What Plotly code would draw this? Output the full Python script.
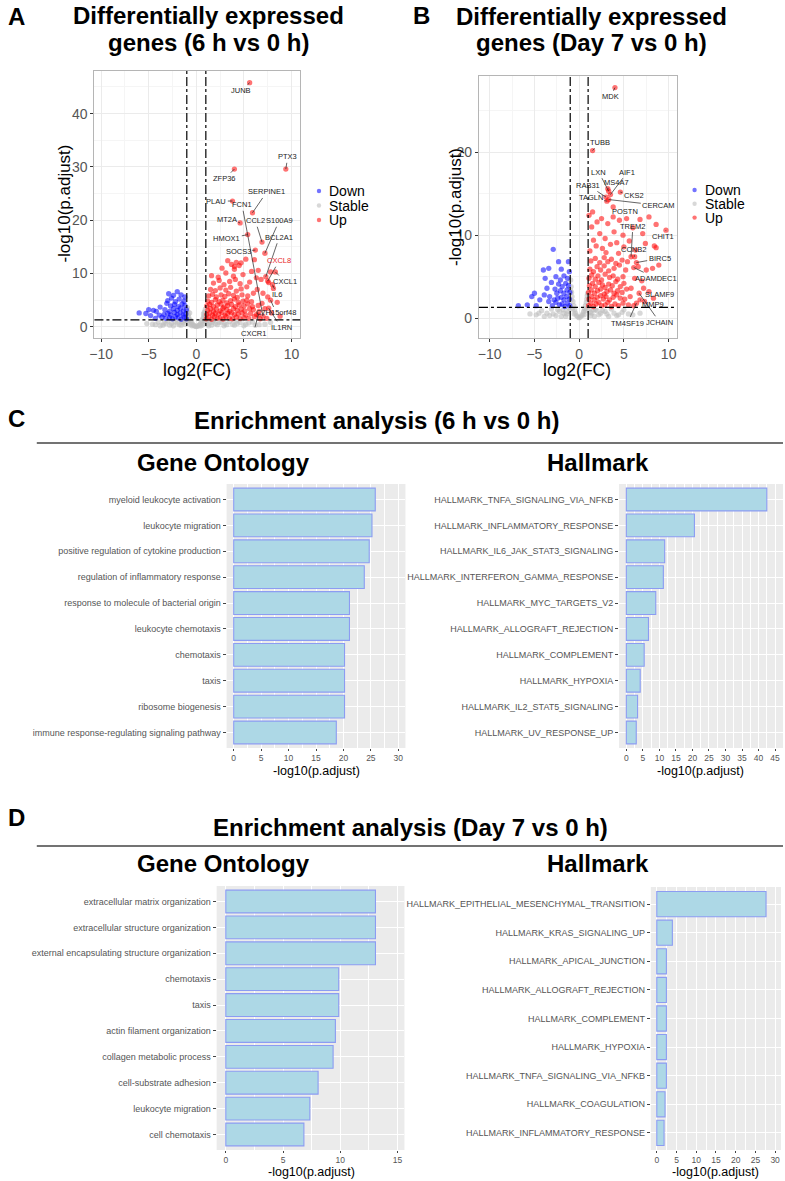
import plotly.graph_objects as go

W, H = 785, 1181
FONT = "Liberation Sans, Arial, Helvetica, sans-serif"

# ── Volcano A : 6 h vs 0 h ──────────────────────────────────────
a_up_x = [1.05, 1.3, 1.6, 1.9, 2.2, 2.5, 2.8, 3.1, 3.5, 3.8, 4.2, 4.6, 5.0, 5.5, 6.1, 6.7,
          1.1, 1.4, 1.7, 2.0, 2.35, 2.7, 3.0, 3.3, 3.7, 4.0, 4.4, 4.8, 5.2, 5.7, 6.3,
          1.2, 1.5, 1.8, 2.1, 2.5, 2.8, 3.2, 3.5, 3.9, 4.3, 4.7, 5.1, 5.6, 6.0, 6.6,
          1.1, 1.4, 1.8, 2.2, 2.6, 2.9, 3.3, 3.7, 4.1, 4.5, 5.0, 5.4, 5.9, 6.5,
          1.2, 1.6, 2.0, 2.4, 2.8, 3.2, 3.6, 4.0, 4.4, 4.9, 5.3, 5.8,
          1.3, 1.7, 2.1, 2.6, 3.0, 3.4, 3.9, 4.3, 4.8, 5.4, 6.0,
          1.5, 2.0, 2.5, 3.1, 3.6, 4.2, 4.7, 5.3, 6.4,
          1.8, 2.4, 2.9, 3.5, 4.1, 4.6, 5.6,
          1.6, 2.3, 3.1, 3.9, 4.9, 5.8,
          3.3, 3.7, 4.0, 4.2, 4.5, 4.0, 4.7,
          2.7, 5.2, 6.1, 6.5, 7.8, 7.6, 8.1, 7.0, 7.5, 6.9, 7.2, 8.5, 7.9, 8.8, 7.4, 6.8, 6.3]
a_up_y = [1.5, 1.8, 1.4, 1.9, 1.6, 1.7, 1.45, 1.9, 1.6, 1.5, 1.8, 1.55, 1.7, 1.6, 1.9, 1.5,
          2.3, 2.6, 2.2, 2.5, 2.4, 2.7, 2.2, 2.5, 2.6, 2.3, 2.4, 2.6, 2.2, 2.5, 2.3,
          3.1, 3.4, 2.9, 3.3, 3.0, 3.5, 3.2, 2.9, 3.4, 3.1, 3.3, 3.0, 3.4, 3.2, 2.9,
          3.9, 4.2, 3.8, 4.1, 4.3, 3.7, 4.0, 4.2, 3.8, 4.1, 3.9, 4.3, 3.8, 4.0,
          4.8, 4.6, 5.1, 4.7, 5.0, 4.5, 4.9, 5.2, 4.6, 4.8, 5.0, 4.7,
          5.8, 6.1, 5.6, 6.0, 5.7, 6.2, 5.9, 5.5, 6.0, 5.8, 6.3,
          7.0, 6.8, 7.3, 6.9, 7.4, 6.7, 7.1, 7.5, 7.0,
          8.2, 8.7, 7.9, 8.5, 8.9, 8.1, 8.4,
          9.6, 9.3, 10.1, 9.5, 9.8, 10.4,
          12.4, 11.7, 11.3, 12.1, 11.5, 10.8, 12.0,
          11.0, 12.7, 12.6, 10.6, 10.3, 8.3, 7.2, 6.3, 5.6, 4.4, 3.4, 4.6, 2.6, 2.0, 1.6, 8.9, 9.2]

a_down_x = [-1.05, -1.3, -1.6, -1.9, -2.2, -2.5, -2.8, -3.2, -3.6,
            -1.1, -1.4, -1.7, -2.0, -2.3, -2.7, -3.0, -3.4,
            -1.05, -1.35, -1.65, -2.0, -2.4, -2.8, -3.3,
            -1.2, -1.5, -1.9, -2.3, -2.7, -3.1,
            -1.3, -1.8, -2.2, -2.6, -3.0,
            -1.6, -2.0, -2.4, -2.9, -1.2,
            -3.8, -4.2, -4.5, -4.8, -5.0, -5.3, -6.0, -3.9, -4.3]
a_down_y = [1.5, 1.8, 1.4, 1.7, 1.9, 1.5, 1.7, 1.6, 1.8,
            2.4, 2.2, 2.6, 2.3, 2.7, 2.2, 2.5, 2.3,
            3.2, 3.0, 3.5, 3.1, 3.4, 2.9, 3.2,
            4.0, 4.3, 3.8, 4.2, 3.9, 4.4,
            4.8, 5.2, 4.7, 5.4, 4.9,
            6.0, 6.6, 5.9, 6.2, 5.6,
            3.7, 2.9, 3.1, 2.1, 3.2, 2.5, 2.6, 2.2, 1.6]

a_stable_x = [-4.6, -4.0, -3.5, -3.0, -2.6, -2.2, -1.8, -1.4, -1.1, 1.1, 1.4, 1.8, 2.2, 2.6,
              3.0, 3.5, 4.0, 4.6, 5.2, 5.9, 6.6,
              -3.8, -3.2, -2.4, -1.6, -1.2, 1.3, 1.6, 2.0, 2.9, 3.8, 4.3, 5.0,
              -5.2, -4.3, -3.4, -2.8, -2.0, -1.5, 1.2, 1.7, 2.4, 3.2, 4.2, 5.5, 6.2, 7.2, 7.8,
              -0.95, -0.9, -0.85, -0.8, -0.75, -0.7, -0.6, -0.5, -0.4, -0.3, -0.2, -0.1, 0.0,
              0.1, 0.2, 0.3, 0.4, 0.5, 0.6, 0.7, 0.75, 0.8, 0.85, 0.9, 0.95,
              -0.9, 0.9, -0.8, 0.8, -0.6, 0.6, -0.45, 0.45]
a_stable_y = [0.5, 0.9, 0.3, 1.1, 0.6, 1.0, 0.4, 0.8, 1.2, 1.1, 0.7, 1.2, 0.4, 0.9,
              0.6, 1.0, 0.3, 0.8, 0.5, 0.9, 0.4,
              0.2, 0.6, 0.2, 0.3, 0.5, 0.2, 0.3, 0.6, 0.2, 0.5, 0.6, 0.2,
              0.6, 0.4, 0.7, 0.3, 0.7, 1.0, 0.5, 0.9, 0.8, 0.4, 1.1, 0.7, 0.3, 0.5, 0.8,
              3.6, 2.9, 2.3, 1.8, 1.4, 2.6, 1.2, 0.8, 0.5, 0.3, 0.2, 0.1, 0.05,
              0.1, 0.2, 0.3, 0.5, 0.8, 1.2, 1.6, 2.4, 1.9, 2.8, 2.2, 3.3,
              1.2, 1.0, 0.7, 0.6, 0.4, 0.3, 0.2, 0.15]

a_genes = ["JUNB", "PTX3", "ZFP36", "SERPINE1", "PLAU", "FCN1", "MT2A", "CCL2", "S100A9",
           "HMOX1", "BCL2A1", "SOCS3", "CXCL8", "CXCL1", "IL6", "C7H15orf48", "IL1RN", "CXCR1"]
a_gene_x = [5.6, 9.4, 4.0, 5.9, 3.8, 7.0, 4.6, 6.9, 7.2, 5.4, 7.3, 6.2, 7.5, 8.3, 8.0, 7.8, 7.6, 6.5]
a_gene_y = [45.8, 29.6, 29.6, 21.4, 23.6, 2.0, 19.5, 15.9, 13.8, 17.3, 9.4, 14.4, 8.6, 10.3,
            7.9, 5.0, 3.5, 2.2]

# ── Volcano B : Day 7 vs 0 h ────────────────────────────────────
b_up_x = [1.05, 1.3, 1.6, 1.9, 2.2, 2.5, 2.9, 3.2, 3.6, 4.0, 4.4, 4.9, 5.5, 6.1,
          1.1, 1.4, 1.7, 2.0, 2.4, 2.7, 3.0, 3.4, 3.8, 4.2, 4.6, 5.1, 5.7,
          1.05, 1.35, 1.7, 2.05, 2.4, 2.8, 3.1, 3.5, 3.9, 4.3, 4.8, 5.3,
          1.15, 1.5, 1.8, 2.2, 2.6, 2.9, 3.3, 3.7, 4.1, 4.6, 5.0,
          1.1, 1.4, 1.8, 2.1, 2.5, 2.9, 3.4, 3.8, 4.3, 4.9,
          1.2, 1.6, 2.0, 2.4, 2.8, 3.3, 3.9, 4.5, 5.2,
          1.3, 1.8, 2.3, 2.8, 3.2, 3.6, 4.1, 4.8, 5.4,
          1.2, 1.6, 1.4, 1.1, 1.5, 2.0, 1.9, 2.3, 2.6, 2.5, 2.9, 3.2, 3.0, 3.5, 3.8, 3.9,
          4.2, 4.5, 4.4, 4.9, 5.0, 5.3, 5.6, 6.0, 6.3, 6.8, 7.1, 7.4, 7.8, 8.4, 8.6, 8.6,
          6.6, 7.5, 8.2, 8.9, 7.0, 7.8, 8.3, 6.2, 5.8, 7.3]
b_up_y = [1.5, 1.8, 1.4, 1.7, 1.9, 1.5, 1.6, 1.9, 1.4, 1.7, 1.5, 1.8, 1.6, 1.5,
          2.3, 2.6, 2.2, 2.5, 2.7, 2.3, 2.6, 2.2, 2.5, 2.8, 2.4, 2.3, 2.6,
          3.1, 3.4, 3.0, 3.3, 3.5, 2.9, 3.2, 3.4, 3.0, 3.3, 3.1, 3.5,
          3.9, 4.2, 3.8, 4.3, 4.0, 3.7, 4.1, 3.9, 4.4, 3.8, 4.2,
          4.8, 5.2, 4.7, 5.1, 4.6, 5.3, 4.9, 5.1, 4.7, 5.0,
          5.9, 5.6, 6.2, 5.8, 6.3, 5.7, 6.0, 6.4, 5.8,
          6.9, 7.2, 6.7, 7.3, 6.8, 7.1, 6.6, 7.0, 6.8,
          8.1, 9.4, 11.0, 12.4, 12.8, 11.6, 8.7, 10.2, 8.4, 12.0, 9.6, 11.4, 7.9, 8.9, 12.2, 10.4,
          9.1, 11.8, 7.8, 10.0, 8.6, 12.0, 9.3, 10.9, 8.2, 11.9, 10.2, 9.0, 12.2, 8.7, 8.5, 11.3,
          6.2, 5.8, 6.0, 6.4, 4.5, 3.2, 2.4, 4.8, 3.6, 2.0]

b_down_x = [-1.05, -1.3, -1.6, -1.9, -2.2, -2.6, -3.0,
            -1.1, -1.4, -1.7, -2.0, -2.4, -2.8,
            -1.05, -1.35, -1.7, -2.1, -2.5,
            -1.2, -1.5, -1.9, -2.3,
            -1.3, -1.7, -2.1, -1.1, -2.6,
            -2.9, -2.3, -1.2, -4.0, -3.4, -2.0, -3.1, -3.6, -3.9, -4.4, -5.3, -5.8, -4.8,
            -3.4, -6.8, -5.0, -3.8, -2.7, -3.3]
b_down_y = [1.5, 1.8, 1.4, 1.7, 1.6, 1.9, 1.5,
            2.3, 2.6, 2.2, 2.5, 2.4, 2.2,
            3.1, 3.4, 3.0, 3.3, 3.0,
            3.9, 4.2, 3.8, 4.1,
            4.8, 5.1, 4.6, 5.6, 5.0,
            8.3, 6.8, 6.8, 5.8, 6.0, 5.9, 4.3, 3.6, 2.8, 2.2, 2.6, 1.6, 1.5,
            2.0, 1.5, 3.0, 4.8, 3.5, 2.6]

b_stable_x = [-4.8, -4.2, -3.6, -3.1, -2.6, -2.2, -1.8, -1.4, -1.1, 1.1, 1.4, 1.8, 2.2, 2.6,
              3.1, 3.6, 4.2, 4.8, 5.5,
              -3.9, -2.9, -2.0, -1.5, 1.3, 1.7, 2.4, 3.3, 4.4,
              -5.5, -4.5, -3.3, -2.4, -1.7, -1.25, 1.25, 1.6, 2.0, 2.9, 3.9, 5.0, 6.0, 6.8,
              -0.95, -0.9, -0.85, -0.8, -0.7, -0.6, -0.5, -0.4, -0.3, -0.15, 0.0, 0.15, 0.3,
              0.4, 0.5, 0.6, 0.7, 0.8, 0.85, 0.9, 0.95, -0.9, -0.75, 0.75, -0.55, 0.55, -0.95]
b_stable_y = [0.4, 0.9, 0.6, 1.1, 0.3, 0.8, 1.0, 0.5, 1.2, 1.1, 0.6, 1.0, 0.4, 0.9,
              0.5, 1.1, 0.3, 0.7, 0.5,
              0.2, 0.5, 0.2, 0.2, 0.3, 0.2, 0.6, 0.2, 0.4,
              0.5, 0.6, 0.3, 1.0, 0.6, 0.8, 0.7, 1.0, 0.9, 0.8, 0.6, 1.0, 0.4, 0.6,
              4.6, 3.8, 3.1, 2.6, 2.0, 1.5, 1.0, 0.6, 0.3, 0.15, 0.05, 0.15, 0.3,
              0.5, 0.8, 1.1, 1.5, 1.9, 2.3, 2.7, 3.0, 2.2, 1.1, 0.9, 0.5, 0.4, 3.3]

b_genes = ["MDK", "TUBB", "LXN", "AIF1", "MS4A7", "RAB31", "TAGLN", "CKS2", "CERCAM", "POSTN",
           "TREM2", "CHIT1", "CCNB2", "BIRC5", "ADAMDEC1", "SLAMF9", "MMP9", "JCHAIN", "TM4SF19"]
b_gene_x = [4.0, 1.5, 3.3, 3.5, 3.2, 3.0, 3.1, 4.6, 3.3, 3.8, 5.8, 9.7, 6.2, 6.4, 6.1, 7.2,
            6.8, 6.7, 6.4]
b_gene_y = [27.8, 20.2, 15.3, 14.9, 15.6, 14.6, 14.1, 15.2, 14.3, 13.4, 7.4, 10.6, 7.4, 6.7,
            6.1, 3.6, 2.2, 3.0, 1.8]

volcano_ticks = [-10, -5, 0, 5, 10]

# ── Enrichment C : 6 h vs 0 h ───────────────────────────────────
c_go_terms = ["myeloid leukocyte activation", "leukocyte migration",
              "positive regulation of cytokine production", "regulation of inflammatory response",
              "response to molecule of bacterial origin", "leukocyte chemotaxis", "chemotaxis",
              "taxis", "ribosome biogenesis", "immune response-regulating signaling pathway"]
c_go_vals = [25.8, 25.2, 24.7, 23.8, 21.1, 21.1, 20.2, 20.2, 20.2, 18.7]

c_hm_terms = ["HALLMARK_TNFA_SIGNALING_VIA_NFKB", "HALLMARK_INFLAMMATORY_RESPONSE",
              "HALLMARK_IL6_JAK_STAT3_SIGNALING", "HALLMARK_INTERFERON_GAMMA_RESPONSE",
              "HALLMARK_MYC_TARGETS_V2", "HALLMARK_ALLOGRAFT_REJECTION", "HALLMARK_COMPLEMENT",
              "HALLMARK_HYPOXIA", "HALLMARK_IL2_STAT5_SIGNALING", "HALLMARK_UV_RESPONSE_UP"]
c_hm_vals = [42.5, 20.6, 11.6, 11.2, 8.9, 6.7, 5.4, 4.2, 3.4, 3.0]

# ── Enrichment D : Day 7 vs 0 h ─────────────────────────────────
d_go_terms = ["extracellular matrix organization", "extracellular structure organization",
              "external encapsulating structure organization", "chemotaxis", "taxis",
              "actin filament organization", "collagen metabolic process",
              "cell-substrate adhesion", "leukocyte migration", "cell chemotaxis"]
d_go_vals = [13.07, 13.07, 13.07, 9.86, 9.86, 9.57, 9.37, 8.06, 7.34, 6.82]

d_hm_terms = ["HALLMARK_EPITHELIAL_MESENCHYMAL_TRANSITION", "HALLMARK_KRAS_SIGNALING_UP",
              "HALLMARK_APICAL_JUNCTION", "HALLMARK_ALLOGRAFT_REJECTION", "HALLMARK_COMPLEMENT",
              "HALLMARK_HYPOXIA", "HALLMARK_TNFA_SIGNALING_VIA_NFKB", "HALLMARK_COAGULATION",
              "HALLMARK_INFLAMMATORY_RESPONSE"]
d_hm_vals = [27.7, 3.95, 2.44, 2.44, 2.44, 2.44, 2.44, 2.1, 1.85]


def px(x):
    return x / W


def py(y):
    return 1 - y / H


UP = "rgba(255,0,0,0.55)"
DOWN = "rgba(0,0,255,0.55)"
STABLE = "rgba(190,190,190,0.6)"
BAR_FILL = "#ADD8E6"
BAR_LINE = "#8C9CF2"
PANEL_BG = "#EBEBEB"

fig = go.Figure()


def add_volcano(xs, ys, color, ax):
    fig.add_trace(go.Scatter(
        x=xs, y=ys, mode="markers", xaxis=ax[0], yaxis=ax[1],
        marker=dict(color=color, size=5.3, line=dict(width=0)),
        showlegend=False, hoverinfo="skip"
    ))


for ax, st, dn, up, gx, gy in [
    (("x", "y"), (a_stable_x, a_stable_y), (a_down_x, a_down_y), (a_up_x, a_up_y), a_gene_x, a_gene_y),
    (("x2", "y2"), (b_stable_x, b_stable_y), (b_down_x, b_down_y), (b_up_x, b_up_y), b_gene_x, b_gene_y),
]:
    add_volcano(*st, STABLE, ax)
    add_volcano(*dn, DOWN, ax)
    add_volcano(*up, UP, ax)
    add_volcano(gx, gy, UP, ax)


def add_bars(terms, vals, ax):
    fig.add_trace(go.Bar(
        x=vals, y=terms, orientation="h", xaxis=ax[0], yaxis=ax[1],
        width=0.88, marker=dict(color=BAR_FILL, line=dict(color=BAR_LINE, width=1.1)),
        showlegend=False
    ))


add_bars(c_go_terms, c_go_vals, ("x3", "y3"))
add_bars(c_hm_terms, c_hm_vals, ("x4", "y4"))
add_bars(d_go_terms, d_go_vals, ("x5", "y5"))
add_bars(d_hm_terms, d_hm_vals, ("x6", "y6"))

# ── axes ────────────────────────────────────────────────────────
def volcano_x(dom, rng, anchor):
    return dict(domain=dom, range=rng, anchor=anchor, tickvals=volcano_ticks,
                showline=True, mirror=True, linecolor="#B5B5B5", linewidth=1,
                showgrid=True, gridcolor="#EBEBEB", gridwidth=1, zeroline=False,
                minor=dict(dtick=2.5, tick0=0, showgrid=True, gridcolor="#F5F5F5", gridwidth=0.6),
                ticks="outside", ticklen=3, tickcolor="#333",
                tickfont=dict(family=FONT, size=14, color="#555"))


def volcano_y(dom, rng, anchor, dtick):
    return dict(domain=dom, range=rng, anchor=anchor, dtick=dtick, tick0=0,
                showline=True, mirror=True, linecolor="#B5B5B5", linewidth=1,
                showgrid=True, gridcolor="#EBEBEB", gridwidth=1, zeroline=False,
                minor=dict(dtick=dtick / 2, tick0=0, showgrid=True, gridcolor="#F5F5F5", gridwidth=0.6),
                ticks="outside", ticklen=3, tickcolor="#333",
                tickfont=dict(family=FONT, size=14, color="#555"))


def bar_x(dom, rng, anchor, dtick):
    return dict(domain=dom, range=rng, anchor=anchor, dtick=dtick, tick0=0,
                showgrid=True, gridcolor="white", gridwidth=1.1, zeroline=False,
                minor=dict(dtick=dtick / 2, tick0=0, showgrid=True, gridcolor="white", gridwidth=0.5),
                ticks="outside", ticklen=2, tickcolor="#444",
                tickfont=dict(family=FONT, size=8.5, color="#555"))


def bar_y(dom, terms, anchor):
    return dict(domain=dom, anchor=anchor, type="category",
                categoryorder="array", categoryarray=terms[::-1],
                range=[-0.6, len(terms) - 0.4],
                showgrid=True, gridcolor="white", gridwidth=1.1, zeroline=False,
                ticks="outside", ticklen=3, tickcolor="#444",
                tickfont=dict(family=FONT, size=9, color="#555"))


fig.update_layout(
    xaxis=volcano_x([px(90), px(297)], [-10.7, 10.9], "y"),
    yaxis=volcano_y([py(338), py(71)], [-2.1, 48.0], "x", 10),
    xaxis2=volcano_x([px(477), px(676)], [-11.2, 10.9], "y2"),
    yaxis2=volcano_y([py(338), py(76)], [-2.4, 29.2], "x2", 10),
    xaxis3=bar_x([px(223), px(403)], [-1.3, 31.3], "y3", 5),
    yaxis3=bar_y([py(748), py(484)], c_go_terms, "x3"),
    xaxis4=bar_x([px(618), px(783)], [-2.2, 47.4], "y4", 5),
    yaxis4=bar_y([py(748), py(484)], c_hm_terms, "x4"),
    xaxis5=bar_x([px(213), px(402)], [-0.8, 15.6], "y5", 5),
    yaxis5=bar_y([py(1150), py(886)], d_go_terms, "x5"),
    xaxis6=bar_x([px(650), px(781)], [-1.5, 31.5], "y6", 5),
    yaxis6=bar_y([py(1150), py(887)], d_hm_terms, "x6"),
)

# ── shapes: grey panels, cut-off lines, rules, legend dots ──────
shapes = []
for i in (3, 4, 5, 6):
    shapes.append(dict(type="rect", xref=f"x{i} domain", yref=f"y{i} domain",
                       x0=0, x1=1, y0=0, y1=1, fillcolor=PANEL_BG, line_width=0, layer="below"))

for xa, ya in (("x", "y"), ("x2", "y2")):
    for xv in (-1, 1):
        shapes.append(dict(type="line", xref=xa, yref=f"{ya} domain", x0=xv, x1=xv, y0=0, y1=1,
                           line=dict(color="black", width=1.2, dash="dashdot")))
    shapes.append(dict(type="line", xref=f"{xa} domain", yref=ya, x0=0, x1=1, y0=1.3, y1=1.3,
                       line=dict(color="black", width=1.2, dash="dashdot")))

for yy in (443, 846):
    shapes.append(dict(type="line", xref="paper", yref="paper", x0=px(32), x1=px(783),
                       y0=py(yy), y1=py(yy), line=dict(color="#444", width=1.5)))

legend_items = [("Down", DOWN), ("Stable", STABLE), ("Up", UP)]
annotations = []
for lx, ly0, dy in ((316, 191, 14.5), (694, 190, 13.8)):
    for k, (name, col) in enumerate(legend_items):
        cy = ly0 + k * dy
        shapes.append(dict(type="circle", xref="paper", yref="paper",
                           x0=px(lx - 2.2), x1=px(lx + 2.2), y0=py(cy + 2.2), y1=py(cy - 2.2),
                           fillcolor=col, line_width=0))
        annotations.append(dict(text=name, x=px(lx + 8), y=py(cy), xref="paper", yref="paper",
                                xanchor="left", yanchor="middle", showarrow=False,
                                font=dict(family=FONT, size=14, color="black")))


def txt(s, x, y, size, bold=False, color="black", xanchor="center", angle=0):
    annotations.append(dict(text=s, x=px(x), y=py(y), xref="paper", yref="paper",
                            xanchor=xanchor, yanchor="middle", showarrow=False, textangle=angle,
                            font=dict(family=FONT, size=size, color=color,
                                      weight="bold" if bold else "normal")))


# panel letters and titles
txt("A", 12, 17, 24, True)
txt("B", 419, 15, 24, True)
txt("C", 12, 418, 24, True)
txt("D", 12, 817, 24, True)
txt("Differentially expressed", 205, 16, 24, True)
txt("genes (6 h vs 0 h)", 205, 43, 24, True)
txt("Differentially expressed", 590, 17, 24, True)
txt("genes (Day 7 vs 0 h)", 590, 43, 24, True)
txt("Enrichment analysis (6 h vs 0 h)", 188, 420, 24, True, xanchor="left")
txt("Enrichment analysis (Day 7 vs 0 h)", 207, 827, 24, True, xanchor="left")
for yy in (462, 863):
    txt("Gene Ontology", 220, yy, 24, True)
    txt("Hallmark", 597, yy, 24, True)

# axis titles
txt("-log10(p.adjust)", 59, 204, 17, angle=-90)
txt("-log10(p.adjust)", 454, 207, 17, angle=-90)
txt("log2(FC)", 193, 370, 17.5)
txt("log2(FC)", 576, 370, 17.5)
txt("-log10(p.adjust)", 313, 771, 12.5)
txt("-log10(p.adjust)", 700, 771, 12.5)
txt("-log10(p.adjust)", 308, 1172, 12.5)
txt("-log10(p.adjust)", 715, 1172, 12.5)

# gene labels (label placement in data units, ggrepel-like)
a_label_pos = [(4.7, 44.3), (9.6, 31.9), (3.0, 27.8), (7.4, 25.3), (2.1, 23.6), (4.8, 22.9),
               (3.2, 20.1), (6.2, 19.9), (8.7, 19.9), (3.2, 16.5), (8.7, 16.8), (4.4, 14.1),
               (8.7, 12.4), (9.3, 8.5), (8.5, 6.0), (8.4, 2.6), (8.9, -0.1), (6.0, -1.2)]
b_label_pos = [(3.5, 26.7), (2.3, 21.2), (2.2, 17.6), (5.4, 17.6), (4.2, 16.4), (1.0, 16.0),
               (1.3, 14.6), (6.1, 14.8), (8.9, 13.6), (5.1, 12.9), (6.0, 11.1), (9.4, 9.8),
               (6.1, 8.3), (9.0, 7.2), (8.6, 4.8), (9.0, 2.9), (8.3, 1.6), (9.0, -0.5), (5.4, -0.6)]

for genes, gx, gy, pos, xa, ya in ((a_genes, a_gene_x, a_gene_y, a_label_pos, "x", "y"),
                                   (b_genes, b_gene_x, b_gene_y, b_label_pos, "x2", "y2")):
    for g, x0, y0, (lx, ly) in zip(genes, gx, gy, pos):
        col = "#E8262A" if g == "CXCL8" else "#222"
        annotations.append(dict(text=g, x=x0, y=y0, xref=xa, yref=ya, ax=lx, ay=ly,
                                axref=xa, ayref=ya, showarrow=True, arrowhead=0,
                                arrowwidth=0.7, arrowcolor="#222", standoff=0, startstandoff=0,
                                font=dict(family=FONT, size=7.5, color=col)))

fig.update_layout(
    width=W, height=H,
    margin=dict(l=0, r=0, t=0, b=0),
    paper_bgcolor="white", plot_bgcolor="white",
    showlegend=False, bargap=0.1,
    shapes=shapes, annotations=annotations,
    font=dict(family=FONT),
)

# page has a default 8px body margin; drop it so the figure fills the window exactly
fig.write_html("out.html", config={"displayModeBar": False},
               post_script="document.body.style.margin='0';document.body.style.overflow='hidden';")
